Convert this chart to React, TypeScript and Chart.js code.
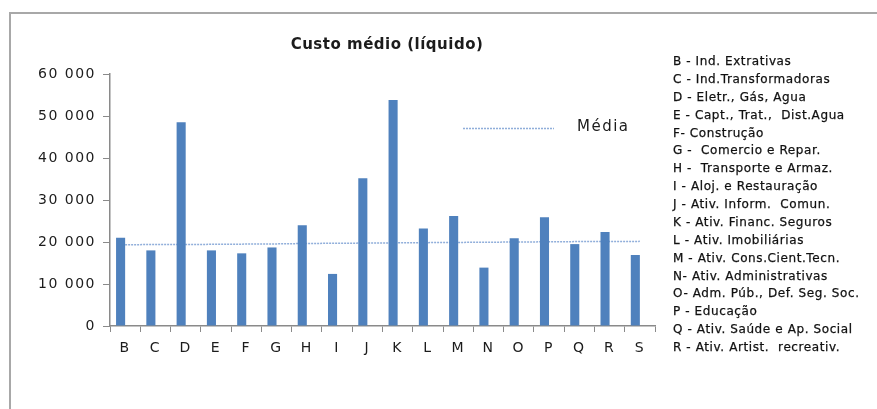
import React, { useEffect, useRef } from 'react';
import { Chart, registerables } from 'chart.js';

Chart.register(...registerables);

const titleText = 'Custo médio (líquido)';
const mediaLabel = 'Média';
const seriesLabel = 'Custo médio';

const categories = ['B', 'C', 'D', 'E', 'F', 'G', 'H', 'I', 'J', 'K', 'L', 'M', 'N', 'O', 'P', 'Q', 'R', 'S'];
const custoMedio = [21000, 18000, 48500, 18000, 17300, 18700, 24000, 12400, 35200, 53800, 23200, 26200, 13900, 20900, 25900, 19500, 22400, 16900];
const mediaValues = [19350, 19400, 19400, 19450, 19500, 19550, 19650, 19700, 19750, 19800, 19850, 19900, 19950, 20000, 20050, 20100, 20100, 20150];

const yMin = 0;
const yMax = 60000;
const yStep = 10000;

const sectorNames = [
  'B - Ind. Extrativas',
  'C - Ind.Transformadoras',
  'D - Eletr., Gás, Agua',
  'E - Capt., Trat.,  Dist.Agua',
  'F- Construção',
  'G -  Comercio e Repar.',
  'H -  Transporte e Armaz.',
  'I - Aloj. e Restauração',
  'J - Ativ. Inform.  Comun.',
  'K - Ativ. Financ. Seguros',
  'L - Ativ. Imobiliárias',
  'M - Ativ. Cons.Cient.Tecn.',
  'N- Ativ. Administrativas',
  'O- Adm. Púb., Def. Seg. Soc.',
  'P - Educação',
  'Q - Ativ. Saúde e Ap. Social',
  'R - Ativ. Artist.  recreativ.',
];

const BAR_COLOR = '#4F81BD';
const LINE_COLOR = 'rgba(125,160,212,0.85)';
const AXIS_COLOR = '#8a8a8a';
const TEXT_COLOR = '#1c1c1c';
const FONT = '"DejaVu Sans", sans-serif';

const fmt = (v: number) => String(v).replace(/\B(?=(\d{3})+(?!\d))/g, ' ');

const excelPlugin = {
  id: 'excelStyle',
  beforeDraw(chart: any) {
    (chart.ctx as any).letterSpacing = '1.5px';
  },
  afterDraw(chart: any) {
    const ctx = chart.ctx as CanvasRenderingContext2D;
    ctx.save();
    const y = 128.5;
    ctx.strokeStyle = LINE_COLOR;
    ctx.lineWidth = 1.5;
    ctx.setLineDash([2, 1]);
    ctx.beginPath();
    ctx.moveTo(463, y);
    ctx.lineTo(554, y);
    ctx.stroke();
    ctx.setLineDash([]);
    (ctx as any).letterSpacing = '1.5px';
    ctx.font = `15px ${FONT}`;
    ctx.fillStyle = TEXT_COLOR;
    ctx.textAlign = 'left';
    ctx.textBaseline = 'middle';
    ctx.fillText(mediaLabel, 577, 127);
    ctx.restore();
  },
};

export default function App() {
  const canvasRef = useRef<HTMLCanvasElement | null>(null);

  useEffect(() => {
    if (!canvasRef.current) return;
    const chart = new Chart(canvasRef.current, {
      type: 'bar',
      data: {
        labels: categories,
        datasets: [
          {
            type: 'bar',
            label: seriesLabel,
            data: custoMedio,
            backgroundColor: BAR_COLOR,
            borderWidth: 0,
            categoryPercentage: 0.6,
            barPercentage: 1,
            order: 1,
          } as any,
          {
            type: 'bar',
            label: '',
            data: categories.map(() => null),
            backgroundColor: 'rgba(0,0,0,0)',
            categoryPercentage: 0.6,
            barPercentage: 1,
            order: 2,
          } as any,
          {
            type: 'line',
            label: mediaLabel,
            data: mediaValues,
            borderColor: LINE_COLOR,
            borderWidth: 1.5,
            borderDash: [2, 1],
            pointRadius: 0,
            fill: false,
            tension: 0,
            order: 3,
          } as any,
        ],
      },
      options: {
        responsive: false,
        animation: false,
        devicePixelRatio: 1,
        layout: { padding: { top: 74, right: 222, bottom: 0, left: 0 } },
        plugins: {
          legend: { display: false },
          title: { display: false },
          tooltip: { enabled: false },
        },
        scales: {
          x: {
            offset: true,
            grid: {
              offset: true,
              display: true,
              drawOnChartArea: false,
              drawTicks: true,
              tickLength: 6,
              color: AXIS_COLOR,
            },
            border: { display: true, color: AXIS_COLOR, width: 1.5 },
            ticks: {
              padding: 8,
              color: TEXT_COLOR,
              font: { family: FONT, size: 14 },
              maxRotation: 0,
              autoSkip: false,
            },
            afterFit: (scale: any) => {
              scale.height = 83;
            },
          },
          y: {
            min: yMin,
            max: yMax,
            ticks: {
              stepSize: yStep,
              padding: 7,
              color: TEXT_COLOR,
              font: { family: FONT, size: 14 },
              callback: (v: any) => fmt(Number(v)),
            },
            grid: {
              display: true,
              drawOnChartArea: false,
              drawTicks: true,
              tickLength: 7,
              color: AXIS_COLOR,
            },
            border: { display: true, color: AXIS_COLOR, width: 1.5 },
            afterFit: (scale: any) => {
              scale.width = 110;
            },
          },
        },
      },
      plugins: [excelPlugin],
    });
    return () => chart.destroy();
  }, []);

  return (
    <div
      style={{
        position: 'absolute',
        left: 0,
        top: 0,
        width: 877,
        height: 409,
        overflow: 'hidden',
        background: '#fff',
      }}
    >
      <div
        style={{
          position: 'absolute',
          left: 9,
          top: 12,
          width: 900,
          height: 420,
          border: '2px solid #a8a8a8',
          boxSizing: 'border-box',
        }}
      />
      <canvas
        ref={canvasRef}
        width={877}
        height={409}
        style={{ position: 'absolute', left: 0, top: 0, width: 877, height: 409 }}
      />
      <div
        style={{
          position: 'absolute',
          left: 0,
          width: 774,
          top: 33,
          textAlign: 'center',
          fontFamily: FONT,
          fontWeight: 'bold',
          fontSize: 15,
          letterSpacing: '0.5px',
          color: TEXT_COLOR,
          lineHeight: '22px',
        }}
      >
        {titleText}
      </div>
      <div
        style={{
          position: 'absolute',
          left: 673,
          top: 53,
          fontFamily: FONT,
          fontSize: 12,
          letterSpacing: '0.6px',
          color: '#111',
          lineHeight: '17.875px',
          whiteSpace: 'pre',
          WebkitTextStroke: '0.25px #111',
        }}
      >
        {sectorNames.map((s) => (
          <div key={s}>{s}</div>
        ))}
      </div>
    </div>
  );
}
